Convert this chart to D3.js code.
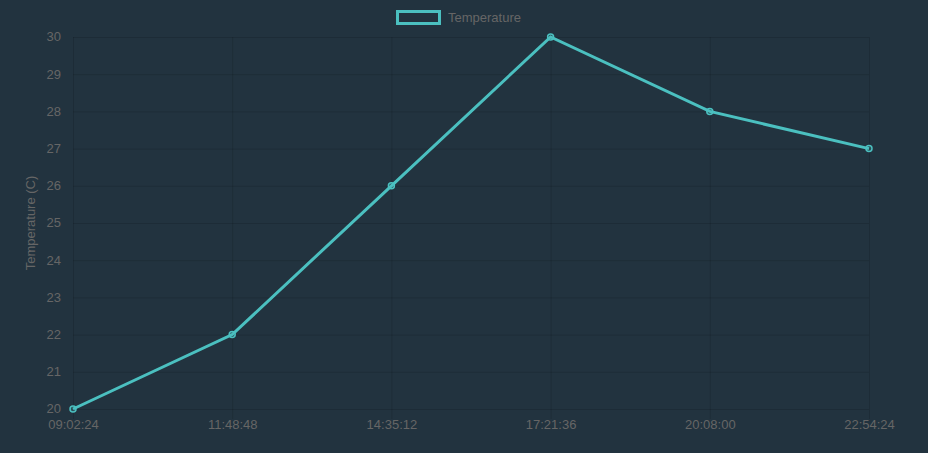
<!DOCTYPE html>
<html><head><meta charset="utf-8">
<script src="https://cdn.jsdelivr.net/npm/d3@7"></script>
<style>body{margin:0;background:#22333f;}svg{display:block;font-family:"Liberation Sans",Arial,sans-serif;}</style>
</head><body><svg id="c" width="928" height="453"></svg>
<script>
const categories = ["09:02:24","11:48:48","14:35:12","17:21:36","20:08:00","22:54:24"];
const temperature = [20,22,26,30,28,27];
const yTicks = [20,21,22,23,24,25,26,27,28,29,30];
const seriesName = "Temperature";
const yTitle = "Temperature (C)";

const svg = d3.select("#c");
svg.append("rect").attr("width",928).attr("height",453).attr("fill","#22333f");
const L=73,R=869,T=37,B=409;
const x = d3.scalePoint().domain(categories).range([L,R]);
const y = d3.scaleLinear().domain([20,30]).range([B,T]);
const grid="rgba(0,0,0,0.12)", txt="#666";

const yAxis = svg.append("g").attr("transform",`translate(${L},0)`)
  .call(d3.axisLeft(y).tickValues(yTicks).tickSize(8).tickPadding(4).tickFormat(d3.format("d")));
yAxis.select(".domain").remove();
yAxis.selectAll(".tick line").attr("x2",R-L).attr("stroke",grid);
yAxis.selectAll("text").attr("fill",txt).attr("font-size",13).attr("dy","0.3em");

const xAxis = svg.append("g").attr("transform",`translate(0,${B})`)
  .call(d3.axisBottom(x).tickSize(10).tickPadding(4));
xAxis.select(".domain").remove();
xAxis.selectAll(".tick line").attr("y1",-(B-T)).attr("stroke",grid);
xAxis.selectAll("text").attr("fill",txt).attr("font-size",13).attr("dy","0.45em");

svg.append("text").attr("transform",`translate(35,223) rotate(-90)`)
  .attr("text-anchor","middle").attr("fill",txt).attr("font-size",13).text(yTitle);

const line = d3.line().x((d,i)=>x(categories[i])).y(d=>y(d));
svg.append("path").datum(temperature).attr("d",line).attr("fill","none")
  .attr("stroke","#4bc0c0").attr("stroke-width",3).attr("stroke-linejoin","miter");
svg.selectAll("circle.p").data(temperature).join("circle").attr("class","p")
  .attr("cx",(d,i)=>x(categories[i])).attr("cy",d=>y(d)).attr("r",3)
  .attr("fill","rgba(75,192,192,0.2)").attr("stroke","#4bc0c0").attr("stroke-width",1.5);

// legend
const lg = svg.append("g");
lg.append("rect").attr("x",397.5).attr("y",11.5).attr("width",42).attr("height",12)
  .attr("fill","none").attr("stroke","#4bc0c0").attr("stroke-width",3);
lg.append("text").attr("x",448).attr("y",22).attr("fill",txt).attr("font-size",13).text(seriesName);
</script></body></html>
